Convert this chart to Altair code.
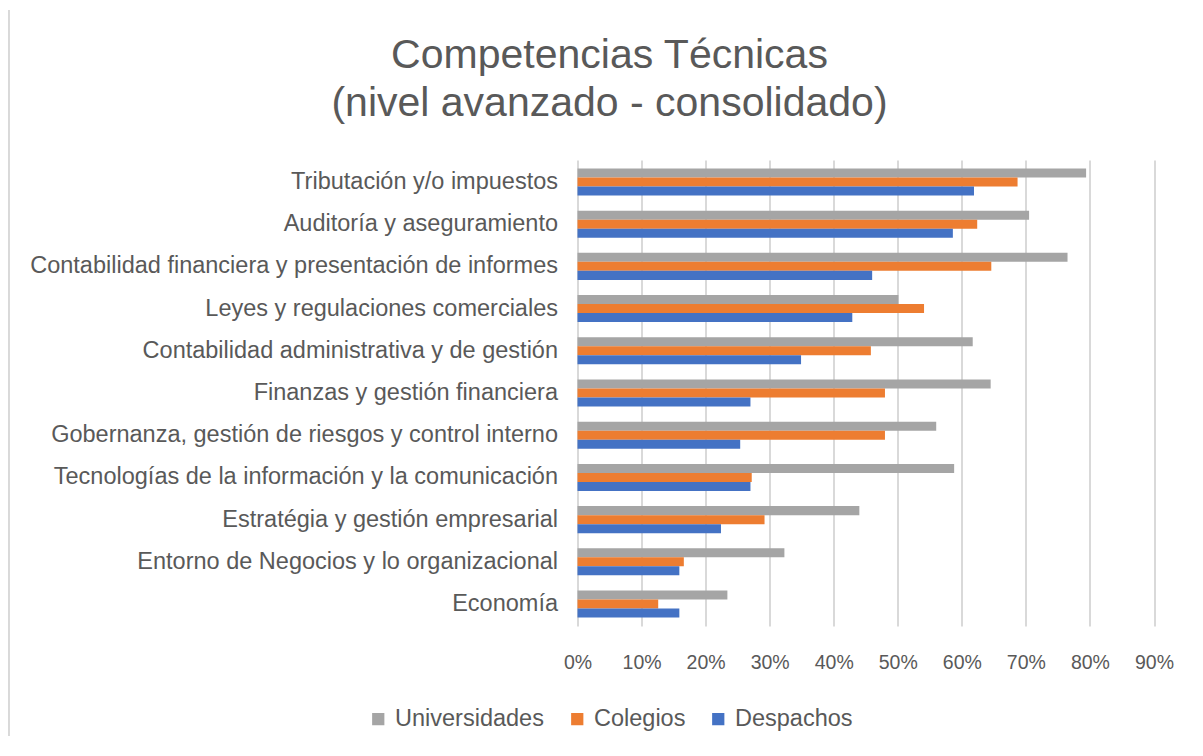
import altair as alt
import pandas as pd

categories = [
    "Tributación y/o impuestos",
    "Auditoría y aseguramiento",
    "Contabilidad financiera y presentación de informes",
    "Leyes y regulaciones comerciales",
    "Contabilidad administrativa y de gestión",
    "Finanzas y gestión financiera",
    "Gobernanza, gestión de riesgos y control interno",
    "Tecnologías de la información y la comunicación",
    "Estratégia y gestión empresarial",
    "Entorno de Negocios y lo organizacional",
    "Economía",
]
series = ["Universidades", "Colegios", "Despachos"]
universidades = [79.4, 70.5, 76.5, 50.1, 61.7, 64.5, 56.0, 58.8, 44.0, 32.3, 23.4]
colegios = [68.7, 62.4, 64.6, 54.1, 45.8, 48.0, 48.0, 27.2, 29.2, 16.6, 12.6]
despachos = [61.9, 58.6, 46.0, 42.9, 34.9, 27.0, 25.4, 27.0, 22.4, 15.9, 15.9]
colors = ["#A5A5A5", "#ED7D31", "#4472C4"]
tick_values = [0, 0.1, 0.2, 0.3, 0.4, 0.5, 0.6, 0.7, 0.8, 0.9]
title_line1 = "Competencias Técnicas"
title_line2 = "(nivel avanzado - consolidado)"

rows = []
for s, vals in zip(series, [universidades, colegios, despachos]):
    for c, v in zip(categories, vals):
        rows.append({"Competencia": c, "Grupo": s, "Valor": v / 100})
df = pd.DataFrame(rows)

FONT = "Liberation Sans"
TXT = "#595959"

bars = alt.Chart(df).mark_bar().encode(
    y=alt.Y(
        "Competencia:N",
        sort=categories,
        title=None,
        scale=alt.Scale(paddingInner=0.36, paddingOuter=0.2),
        axis=alt.Axis(
            domain=False, ticks=False, labelPadding=20, labelFontSize=23.5,
            labelColor=TXT, labelFont=FONT, labelLimit=0, grid=False,
        ),
    ),
    yOffset=alt.YOffset("Grupo:N", sort=series, scale=alt.Scale(paddingInner=0, paddingOuter=0)),
    x=alt.X(
        "Valor:Q",
        title=None,
        scale=alt.Scale(domain=[0, 0.9], nice=False),
        axis=alt.Axis(
            values=tick_values, format=".0%", grid=True, gridColor="#D9D9D9",
            gridWidth=2, domain=False, ticks=False, labelFontSize=19.5,
            labelColor=TXT, labelFont=FONT, labelPadding=27, labelFlush=False,
        ),
    ),
    color=alt.Color(
        "Grupo:N",
        sort=series,
        scale=alt.Scale(domain=series, range=colors),
        legend=alt.Legend(
            title=None, orient="none", direction="horizontal",
            legendX=-211, legendY=547, symbolType="square", symbolSize=150,
            symbolStrokeWidth=0, labelFontSize=23.5, labelColor=TXT, labelFont=FONT,
            labelOffset=5, columnPadding=21,
        ),
    ),
)

border = alt.Chart(df).mark_rule(color="#D9D9D9", strokeWidth=2).encode(
    x=alt.value(-569), y=alt.value(-150), y2=alt.value(590)
)

t1 = alt.Chart(pd.DataFrame({"t": [title_line1]})).mark_text(
    font=FONT, fontSize=41, color=TXT, align="center", baseline="middle"
).encode(text="t:N", x=alt.value(32), y=alt.value(-104))
t2 = alt.Chart(pd.DataFrame({"t": [title_line2]})).mark_text(
    font=FONT, fontSize=41, color=TXT, align="center", baseline="middle"
).encode(text="t:N", x=alt.value(32), y=alt.value(-56))

chart = alt.layer(border, bars, t1, t2).properties(
    width=576.5,
    height=466,
    autosize=alt.AutoSizeParams(type="none"),
    padding={"left": 569.5, "top": 152, "right": 40, "bottom": 110},
).configure_view(stroke=None)

chart.save("out.html", embed_options={"renderer": "svg", "actions": False})
